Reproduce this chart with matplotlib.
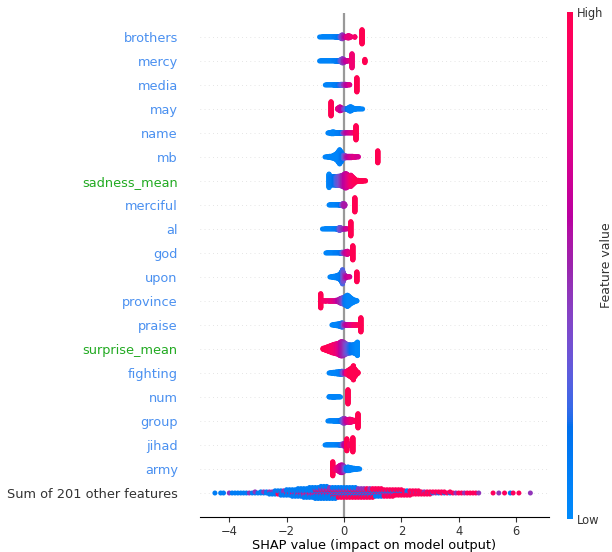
import numpy as np
import matplotlib
matplotlib.use("Agg")
import matplotlib.pyplot as plt
from matplotlib.colors import LinearSegmentedColormap

# ---------------- data ----------------
# features from top to bottom
feature_names = ["brothers", "mercy", "media", "may", "name", "mb", "sadness_mean",
                 "merciful", "al", "god", "upon", "province", "praise", "surprise_mean",
                 "fighting", "num", "group", "jihad", "army", "Sum of 201 other features"]
label_colors = ["#4a90f0"] * 6 + ["#22aa22"] + ["#4a90f0"] * 6 + ["#22aa22"] + \
               ["#4a90f0"] * 5 + ["#333333"]

# each cluster: (SHAP value, normalized feature value, number of samples)
brothers = [(-0.85, .05, 1), (-0.80, .05, 1), (-0.75, .05, 2), (-0.70, .05, 2), (-0.65, .05, 2),
            (-0.60, .05, 2), (-0.55, .05, 2), (-0.50, .05, 2), (-0.45, .05, 2), (-0.40, .05, 2),
            (-0.35, .08, 2), (-0.30, .1, 3), (-0.25, .1, 3), (-0.20, .15, 3), (-0.15, .2, 3),
            (-0.10, .3, 9), (-0.06, .4, 12), (-0.02, .5, 8), (0.03, .6, 3),
            (0.10, .75, 5), (0.15, .8, 8), (0.20, .8, 6), (0.25, .85, 2),
            (0.38, .9, 3), (0.63, 1.0, 40)]
mercy = [(-0.85, .05, 1), (-0.80, .05, 2), (-0.75, .05, 2), (-0.70, .05, 2), (-0.65, .05, 2),
         (-0.60, .05, 2), (-0.55, .05, 2), (-0.50, .05, 2), (-0.45, .05, 2), (-0.40, .05, 2),
         (-0.35, .08, 2), (-0.30, .1, 3), (-0.25, .1, 3), (-0.20, .15, 3), (-0.15, .2, 4),
         (-0.10, .3, 8), (-0.05, .4, 12), (0.00, .5, 9), (0.05, .6, 3), (0.10, .65, 3),
         (0.15, .7, 2), (0.20, .75, 2), (0.28, .85, 36), (0.73, 1.0, 9)]
media = [(-0.65, .05, 1), (-0.60, .05, 2), (-0.55, .05, 2), (-0.50, .05, 2), (-0.45, .05, 2),
         (-0.40, .05, 2), (-0.35, .08, 3), (-0.30, .1, 3), (-0.25, .1, 3), (-0.20, .15, 3),
         (-0.15, .2, 3), (-0.10, .25, 4), (-0.05, .3, 4), (0.00, .45, 4), (0.05, .55, 4),
         (0.10, .6, 3), (0.15, .65, 2), (0.20, .75, 2), (0.45, 1.0, 40)]
may = [(-0.45, 1.0, 40), (-0.22, .8, 4), (-0.18, .75, 8), (-0.14, .7, 12), (-0.10, .65, 9),
       (-0.06, .6, 5), (-0.02, .45, 3), (0.03, .35, 3), (0.08, .25, 3), (0.12, .15, 5),
       (0.17, .1, 9), (0.21, .08, 13), (0.25, .08, 12), (0.29, .05, 8), (0.35, .05, 4),
       (0.40, .05, 3), (0.45, .05, 2), (0.50, .05, 2), (0.55, .05, 2), (0.60, .05, 1),
       (0.65, .05, 1)]
name = [(-0.56, .05, 1), (-0.52, .05, 2), (-0.48, .05, 3), (-0.44, .05, 5), (-0.40, .05, 6),
        (-0.36, .05, 6), (-0.32, .05, 4), (-0.28, .05, 3), (-0.24, .08, 3), (-0.20, .1, 3),
        (-0.16, .1, 3), (-0.12, .12, 3), (-0.08, .15, 3), (-0.04, .25, 3), (0.00, .45, 3),
        (0.05, .55, 2), (0.10, .6, 2), (0.15, .65, 2), (0.20, .7, 2), (0.25, .75, 2),
        (0.30, .8, 2), (0.35, .85, 2), (0.42, 1.0, 40)]
mb = [(-0.66, .05, 1), (-0.60, .05, 2), (-0.55, .05, 3), (-0.50, .05, 4), (-0.45, .05, 5),
      (-0.40, .05, 7), (-0.35, .05, 10), (-0.30, .05, 14), (-0.25, .05, 20), (-0.20, .05, 30),
      (-0.15, .06, 40), (-0.10, .1, 30), (-0.06, .15, 18), (-0.02, .25, 10), (0.02, .35, 8),
      (0.06, .45, 6), (0.10, .55, 5), (0.15, .6, 5), (0.20, .65, 5), (0.25, .7, 5),
      (0.30, .7, 4), (0.35, .75, 3), (0.40, .75, 3), (0.45, .7, 2), (0.50, .7, 2),
      (1.18, 1.0, 34)]
sadness_mean = [(-0.52, .02, 38), (-0.48, .08, 24), (-0.44, .1, 24), (-0.40, .12, 24),
                (-0.36, .15, 24), (-0.32, .18, 24), (-0.28, .2, 25), (-0.24, .25, 25),
                (-0.20, .3, 26), (-0.16, .35, 26), (-0.12, .4, 28), (-0.08, .45, 30),
                (-0.04, .5, 32), (0.00, .55, 36), (0.04, .6, 40), (0.08, .65, 40),
                (0.12, .7, 36), (0.16, .75, 30), (0.20, .8, 28), (0.24, .85, 32),
                (0.28, .9, 26), (0.32, .92, 20), (0.36, .95, 14), (0.40, .97, 8),
                (0.45, .98, 5), (0.50, 1.0, 4), (0.55, 1.0, 3), (0.60, 1.0, 3),
                (0.65, 1.0, 3), (0.70, 1.0, 2), (0.75, 1.0, 2)]
merciful = [(-0.52, .05, 1), (-0.48, .05, 2), (-0.44, .05, 2), (-0.40, .05, 2), (-0.36, .05, 2),
            (-0.32, .05, 2), (-0.28, .05, 2), (-0.24, .08, 2), (-0.20, .1, 2), (-0.16, .1, 3),
            (-0.12, .15, 3), (-0.08, .25, 4), (-0.04, .4, 8), (0.00, .5, 9), (0.03, .55, 5),
            (0.38, 1.0, 40)]
al = [(-0.75, .05, 1), (-0.70, .05, 1), (-0.65, .05, 2), (-0.60, .05, 2), (-0.55, .05, 2),
      (-0.50, .05, 2), (-0.45, .05, 2), (-0.40, .05, 2), (-0.35, .08, 2), (-0.30, .1, 2),
      (-0.25, .12, 3), (-0.20, .2, 5), (-0.16, .3, 9), (-0.12, .35, 8), (-0.08, .4, 4),
      (-0.04, .45, 3), (0.00, .5, 3), (0.05, .6, 2), (0.10, .7, 2), (0.24, 1.0, 40)]
god = [(-0.63, .05, 1), (-0.58, .05, 2), (-0.53, .05, 2), (-0.48, .05, 2), (-0.43, .05, 2),
       (-0.38, .05, 2), (-0.33, .08, 2), (-0.28, .1, 2), (-0.23, .1, 2), (-0.18, .12, 2),
       (-0.13, .15, 3), (-0.08, .2, 4), (-0.04, .3, 4), (0.00, .45, 5), (0.04, .55, 6),
       (0.08, .65, 8), (0.12, .7, 10), (0.16, .75, 6), (0.20, .8, 3), (0.31, 1.0, 40)]
upon = [(-0.49, .05, 1), (-0.44, .05, 2), (-0.40, .05, 3), (-0.36, .05, 4), (-0.32, .05, 5),
        (-0.28, .05, 6), (-0.24, .06, 8), (-0.20, .08, 10), (-0.16, .1, 14), (-0.12, .12, 20),
        (-0.08, .15, 30), (-0.05, .25, 40), (-0.02, .35, 26), (0.02, .45, 12), (0.06, .55, 6),
        (0.10, .6, 3), (0.15, .65, 2), (0.20, .7, 2), (0.45, 1.0, 28)]
province = [(-0.81, 1.0, 40), (-0.76, .95, 3), (-0.70, .9, 2), (-0.64, .9, 3), (-0.58, .85, 2),
            (-0.52, .85, 3), (-0.46, .8, 3), (-0.40, .8, 3), (-0.34, .75, 3), (-0.28, .7, 4),
            (-0.22, .6, 6), (-0.16, .55, 10), (-0.12, .5, 14), (-0.08, .45, 16), (-0.04, .4, 18),
            (0.00, .3, 20), (0.04, .2, 24), (0.08, .1, 28), (0.12, .08, 32), (0.16, .05, 28),
            (0.20, .05, 22), (0.25, .05, 16), (0.30, .05, 11), (0.35, .05, 7), (0.40, .05, 4),
            (0.45, .05, 2)]
praise = [(-0.42, .05, 1), (-0.38, .05, 2), (-0.34, .05, 3), (-0.30, .05, 4), (-0.26, .05, 5),
          (-0.22, .05, 6), (-0.18, .06, 7), (-0.14, .08, 9), (-0.10, .1, 11), (-0.06, .2, 13),
          (-0.02, .35, 8), (0.03, .5, 4), (0.08, .6, 3), (0.13, .65, 3), (0.18, .7, 3),
          (0.23, .75, 3), (0.28, .8, 3), (0.33, .85, 3), (0.38, .9, 3), (0.43, .9, 3),
          (0.50, .95, 3), (0.59, 1.0, 40)]
surprise_mean = [(-0.73, 1.0, 4), (-0.68, 1.0, 6), (-0.63, 1.0, 9), (-0.58, .98, 12),
                 (-0.53, .97, 15), (-0.48, .95, 18), (-0.43, .93, 21), (-0.38, .9, 24),
                 (-0.33, .88, 26), (-0.28, .85, 28), (-0.23, .8, 30), (-0.18, .75, 33),
                 (-0.14, .7, 37), (-0.10, .62, 40), (-0.06, .55, 40), (-0.02, .5, 38),
                 (0.02, .45, 34), (0.06, .4, 30), (0.10, .35, 27), (0.14, .3, 25),
                 (0.18, .25, 24), (0.22, .2, 23), (0.26, .15, 22), (0.30, .12, 22),
                 (0.34, .1, 24), (0.38, .08, 26), (0.42, .05, 30), (0.47, .02, 38)]
fighting = [(-0.52, .05, 1), (-0.47, .05, 2), (-0.42, .05, 3), (-0.37, .05, 4), (-0.32, .05, 5),
            (-0.27, .05, 6), (-0.22, .06, 7), (-0.17, .08, 8), (-0.12, .1, 9), (-0.07, .2, 10),
            (-0.03, .35, 8), (0.02, .5, 6), (0.06, .6, 6), (0.10, .85, 10), (0.14, .9, 14),
            (0.18, .95, 18), (0.22, 1.0, 22), (0.26, 1.0, 26), (0.30, 1.0, 32), (0.33, 1.0, 40),
            (0.37, 1.0, 24), (0.41, 1.0, 16), (0.45, 1.0, 8), (0.49, 1.0, 4)]
num = [(-0.52, .05, 2), (-0.48, .05, 2), (-0.44, .05, 2), (-0.40, .05, 3), (-0.36, .05, 3),
       (-0.32, .05, 3), (-0.28, .05, 2), (-0.24, .05, 2), (-0.20, .05, 2), (-0.16, .05, 2),
       (-0.12, .05, 1), (0.14, 1.0, 40)]
group = [(-0.56, .05, 1), (-0.50, .05, 2), (-0.45, .05, 2), (-0.40, .05, 2), (-0.35, .05, 3),
         (-0.30, .05, 3), (-0.25, .05, 3), (-0.20, .08, 3), (-0.15, .1, 4), (-0.10, .15, 6),
         (-0.06, .25, 10), (-0.02, .35, 14), (0.02, .45, 14), (0.06, .55, 10), (0.10, .65, 8),
         (0.14, .7, 8), (0.18, .75, 10), (0.22, .8, 10), (0.26, .85, 8), (0.30, .9, 6),
         (0.35, .9, 4), (0.40, .95, 4), (0.49, 1.0, 40)]
jihad = [(-0.66, .05, 1), (-0.60, .05, 2), (-0.55, .05, 2), (-0.50, .05, 2), (-0.45, .05, 2),
         (-0.40, .05, 2), (-0.35, .05, 2), (-0.30, .05, 2), (-0.25, .08, 2), (-0.20, .1, 2),
         (-0.15, .12, 3), (-0.10, .2, 4), (-0.05, .35, 6), (0.00, .5, 8), (0.04, .6, 10),
         (0.10, 1.0, 34), (0.20, .9, 6), (0.31, 1.0, 40)]
army = [(-0.39, 1.0, 36), (-0.34, .95, 4), (-0.30, .9, 5), (-0.26, .85, 7), (-0.22, .8, 10),
        (-0.18, .75, 14), (-0.14, .7, 18), (-0.10, .65, 20), (-0.06, .6, 20), (-0.02, .5, 16),
        (0.02, .4, 11), (0.06, .25, 8), (0.10, .15, 9), (0.14, .1, 10), (0.18, .05, 9),
        (0.22, .05, 7), (0.26, .05, 6), (0.30, .05, 5), (0.35, .05, 4), (0.40, .05, 3),
        (0.45, .05, 3), (0.50, .05, 2), (0.55, .05, 1)]

# "Sum of 201 other features": SHAP value bins and counts of low / mid / high feature values
other_shap = [-4.5, -4.4, -4.3, -4.2, -4.1, -4.0, -3.9, -3.8, -3.7, -3.6, -3.5, -3.4, -3.3, -3.2,
              -3.1, -3.0, -2.9, -2.8, -2.7, -2.6, -2.5, -2.4, -2.3, -2.2, -2.1, -2.0, -1.9, -1.8,
              -1.7, -1.6, -1.5, -1.4, -1.3, -1.2, -1.1, -1.0, -0.9, -0.8, -0.7, -0.6, -0.5, -0.4,
              -0.3, -0.2, -0.1, 0.0, 0.1, 0.2, 0.3, 0.4, 0.5, 0.6, 0.7, 0.8, 0.9, 1.0, 1.1, 1.2,
              1.3, 1.4, 1.5, 1.6, 1.7, 1.8, 1.9, 2.0, 2.1, 2.2, 2.3, 2.4, 2.5, 2.6, 2.7, 2.8, 2.9,
              3.0, 3.1, 3.2, 3.3, 3.4, 3.5, 3.6, 3.7, 3.8, 3.9, 4.0, 4.1, 4.2, 4.3, 4.4, 4.5, 4.6,
              4.7, 4.8, 4.9, 5.0, 5.1, 5.2, 5.3, 5.4, 5.5, 5.6, 5.7, 5.8, 5.9, 6.0, 6.1, 6.2, 6.3,
              6.4, 6.5]
other_low = [1, 0, 1, 1, 0, 0, 1, 1, 1, 1, 1, 1, 0, 1, 1, 1,
             2, 1, 2, 2, 2, 3, 2, 3, 3, 4,
             4, 4, 5, 5, 5, 5, 6, 6, 6, 6,
             6, 6, 6, 6, 5, 5, 5, 4, 4, 4,
             4, 4, 4, 4, 3, 3, 3, 3, 3, 3,
             3, 3, 3, 2, 2, 2, 2, 2, 2, 2,
             1, 2, 1, 1, 1, 1, 1, 1, 1, 1,
             1, 0, 1, 0, 1, 0, 1, 0, 0, 0,
             0, 0, 0, 0, 0, 0, 0, 0, 0, 0,
             0, 0, 0, 0, 0, 0, 0, 1, 0, 0,
             0, 0, 0, 0, 0]
other_mid = [0, 0, 0, 0, 0, 1, 0, 0, 0, 0, 0, 0, 1, 0, 1, 0,
             0, 1, 0, 1, 1, 1, 1, 1, 2, 1,
             1, 2, 1, 2, 2, 3, 2, 3, 3, 3,
             3, 4, 4, 4, 4, 3, 3, 3, 3, 3,
             3, 3, 3, 3, 3, 3, 3, 2, 3, 2,
             2, 2, 2, 2, 2, 2, 2, 1, 1, 1,
             1, 1, 1, 1, 1, 1, 0, 1, 0, 0,
             0, 1, 0, 0, 0, 0, 0, 0, 1, 0,
             0, 1, 0, 0, 0, 0, 1, 0, 0, 0,
             0, 0, 0, 1, 0, 0, 0, 0, 0, 0,
             0, 0, 0, 0, 1]
other_high = [0, 0, 0, 0, 0, 0, 0, 0, 0, 0, 0, 0, 0, 0, 0, 0,
              0, 0, 0, 0, 0, 0, 1, 1, 0, 1,
              1, 1, 1, 1, 1, 1, 1, 1, 1, 2,
              2, 2, 2, 2, 2, 3, 3, 3, 3, 3,
              3, 3, 3, 3, 3, 3, 3, 4, 3, 4,
              3, 3, 3, 3, 3, 3, 3, 3, 3, 3,
              3, 2, 3, 2, 2, 2, 2, 1, 2, 2,
              1, 1, 1, 2, 1, 1, 1, 1, 0, 1,
              1, 0, 1, 1, 1, 1, 0, 0, 0, 0,
              0, 1, 0, 0, 0, 1, 0, 0, 1, 0,
              1, 0, 0, 0, 0]
other_levels = [0.1, 0.45, 0.95]

xticks = [-4, -2, 0, 2, 4, 6]
xlabel = "SHAP value (impact on model output)"

# ---------------- colormap (shap red_blue, LCH interpolation) ----------------
def lch2rgb(l, c, h):
    a, b = c * np.cos(h), c * np.sin(h)
    fy = (l + 16) / 116.0
    fx, fz = fy + a / 500.0, fy - b / 200.0
    def finv(t):
        return t ** 3 if t ** 3 > 0.008856 else (t - 16 / 116.0) / 7.787
    xyz = np.array([finv(fx) * 0.95047, finv(fy), finv(fz) * 1.08883])
    m = np.array([[3.2404542, -1.5371385, -0.4985314],
                  [-0.9692660, 1.8760108, 0.0415560],
                  [0.0556434, -0.2040259, 1.0572252]])
    rgb = m @ xyz
    rgb = np.where(rgb > 0.0031308, 1.055 * np.clip(rgb, 0, None) ** (1 / 2.4) - 0.055, 12.92 * rgb)
    return np.clip(rgb, 0, 1)

blue_lch = [54., 70., 4.6588]
red_lch = [54., 90., 0.35470565 + 2 * np.pi]
nsteps = 100
lv = list(np.linspace(blue_lch[0], 40., nsteps // 2)) + list(np.linspace(40., red_lch[0], nsteps // 2))
cv = np.linspace(blue_lch[1], red_lch[1], nsteps)
hv = np.linspace(blue_lch[2], red_lch[2], nsteps)
cmap = LinearSegmentedColormap.from_list("red_blue", [lch2rgb(l, c, h) for l, c, h in zip(lv, cv, hv)])

# ---------------- beeswarm layout ----------------
def swarm(xs, row_height=0.4):
    xs = np.asarray(xs, float)
    _, quant = np.unique(xs, return_inverse=True)
    inds = np.argsort(quant, kind="stable")
    ys = np.zeros(len(xs))
    layer, last = 0, None
    for i in inds:
        if quant[i] != last:
            layer = 0
        ys[i] = np.ceil(layer / 2) * ((layer % 2) * 2 - 1)
        layer += 1
        last = quant[i]
    ys *= 0.8 * (row_height / np.max(ys + 1))
    return ys

def expand(clusters):
    xs, cs = [], []
    for x, f, n in clusters:
        xs += [x] * n
        cs += [f] * n
    return np.array(xs), np.array(cs)

def expand_other():
    xs, cs = [], []
    for x, nl, nm, nh in zip(other_shap, other_low, other_mid, other_high):
        pools = [[other_levels[0]] * nl, [other_levels[1]] * nm, [other_levels[2]] * nh]
        k = 0
        while any(pools):
            p = pools[k % 3]
            if p:
                cs.append(p.pop())
                xs.append(x)
            k += 1
    return np.array(xs), np.array(cs)

rows = [brothers, mercy, media, may, name, mb, sadness_mean, merciful, al, god, upon,
        province, praise, surprise_mean, fighting, num, group, jihad, army]

# ---------------- figure ----------------
W, H = 612, 552
fig = plt.figure(figsize=(W / 100, H / 100), dpi=100)
ax = fig.add_axes([200 / W, 35 / H, 349 / W, 504 / H])

n = len(feature_names)
ax.axvline(0, color="#999999", lw=1.6, zorder=-1)
for k in range(n):
    pos = n - 1 - k
    ax.axhline(pos, color="#cccccc", lw=0.5, dashes=(1, 5), zorder=-1)
    if k < len(rows):
        xs, cs = expand(rows[k])
    else:
        xs, cs = expand_other()
    ys = swarm(xs)
    ax.scatter(xs, pos + ys, c=cs, cmap=cmap, vmin=0, vmax=1, s=13, linewidth=0, zorder=3)

ax.set_xlim(-5.02, 7.15)
ax.set_ylim(-1, n)
ax.set_yticks(range(n))
ax.set_yticklabels(feature_names[::-1], fontsize=9.3)
for lab, col in zip(ax.get_yticklabels(), label_colors[::-1]):
    lab.set_color(col)
ax.tick_params(axis="y", length=0, pad=16)
ax.set_xticks(xticks)
ax.tick_params(axis="x", labelsize=8.3, color="#333333", labelcolor="#333333", pad=2)
ax.set_xlabel(xlabel, fontsize=9.3)
ax.xaxis.set_label_coords(0.5, -0.043)
for s in ["top", "right", "left"]:
    ax.spines[s].set_visible(False)

cax = fig.add_axes([567 / W, 33 / H, 6 / W, 507 / H])
sm = plt.cm.ScalarMappable(cmap=cmap, norm=plt.Normalize(0, 1))
cb = fig.colorbar(sm, cax=cax, ticks=[0, 1])
cb.set_ticklabels(["Low", "High"])
cb.ax.tick_params(labelsize=8.3, length=0, pad=3, labelcolor="#333333")
cb.set_label("Feature value", size=9, color="#333333")
cb.ax.yaxis.set_label_coords(5.5, 0.5)
cb.outline.set_visible(False)

fig.savefig("out.png", dpi=100)
